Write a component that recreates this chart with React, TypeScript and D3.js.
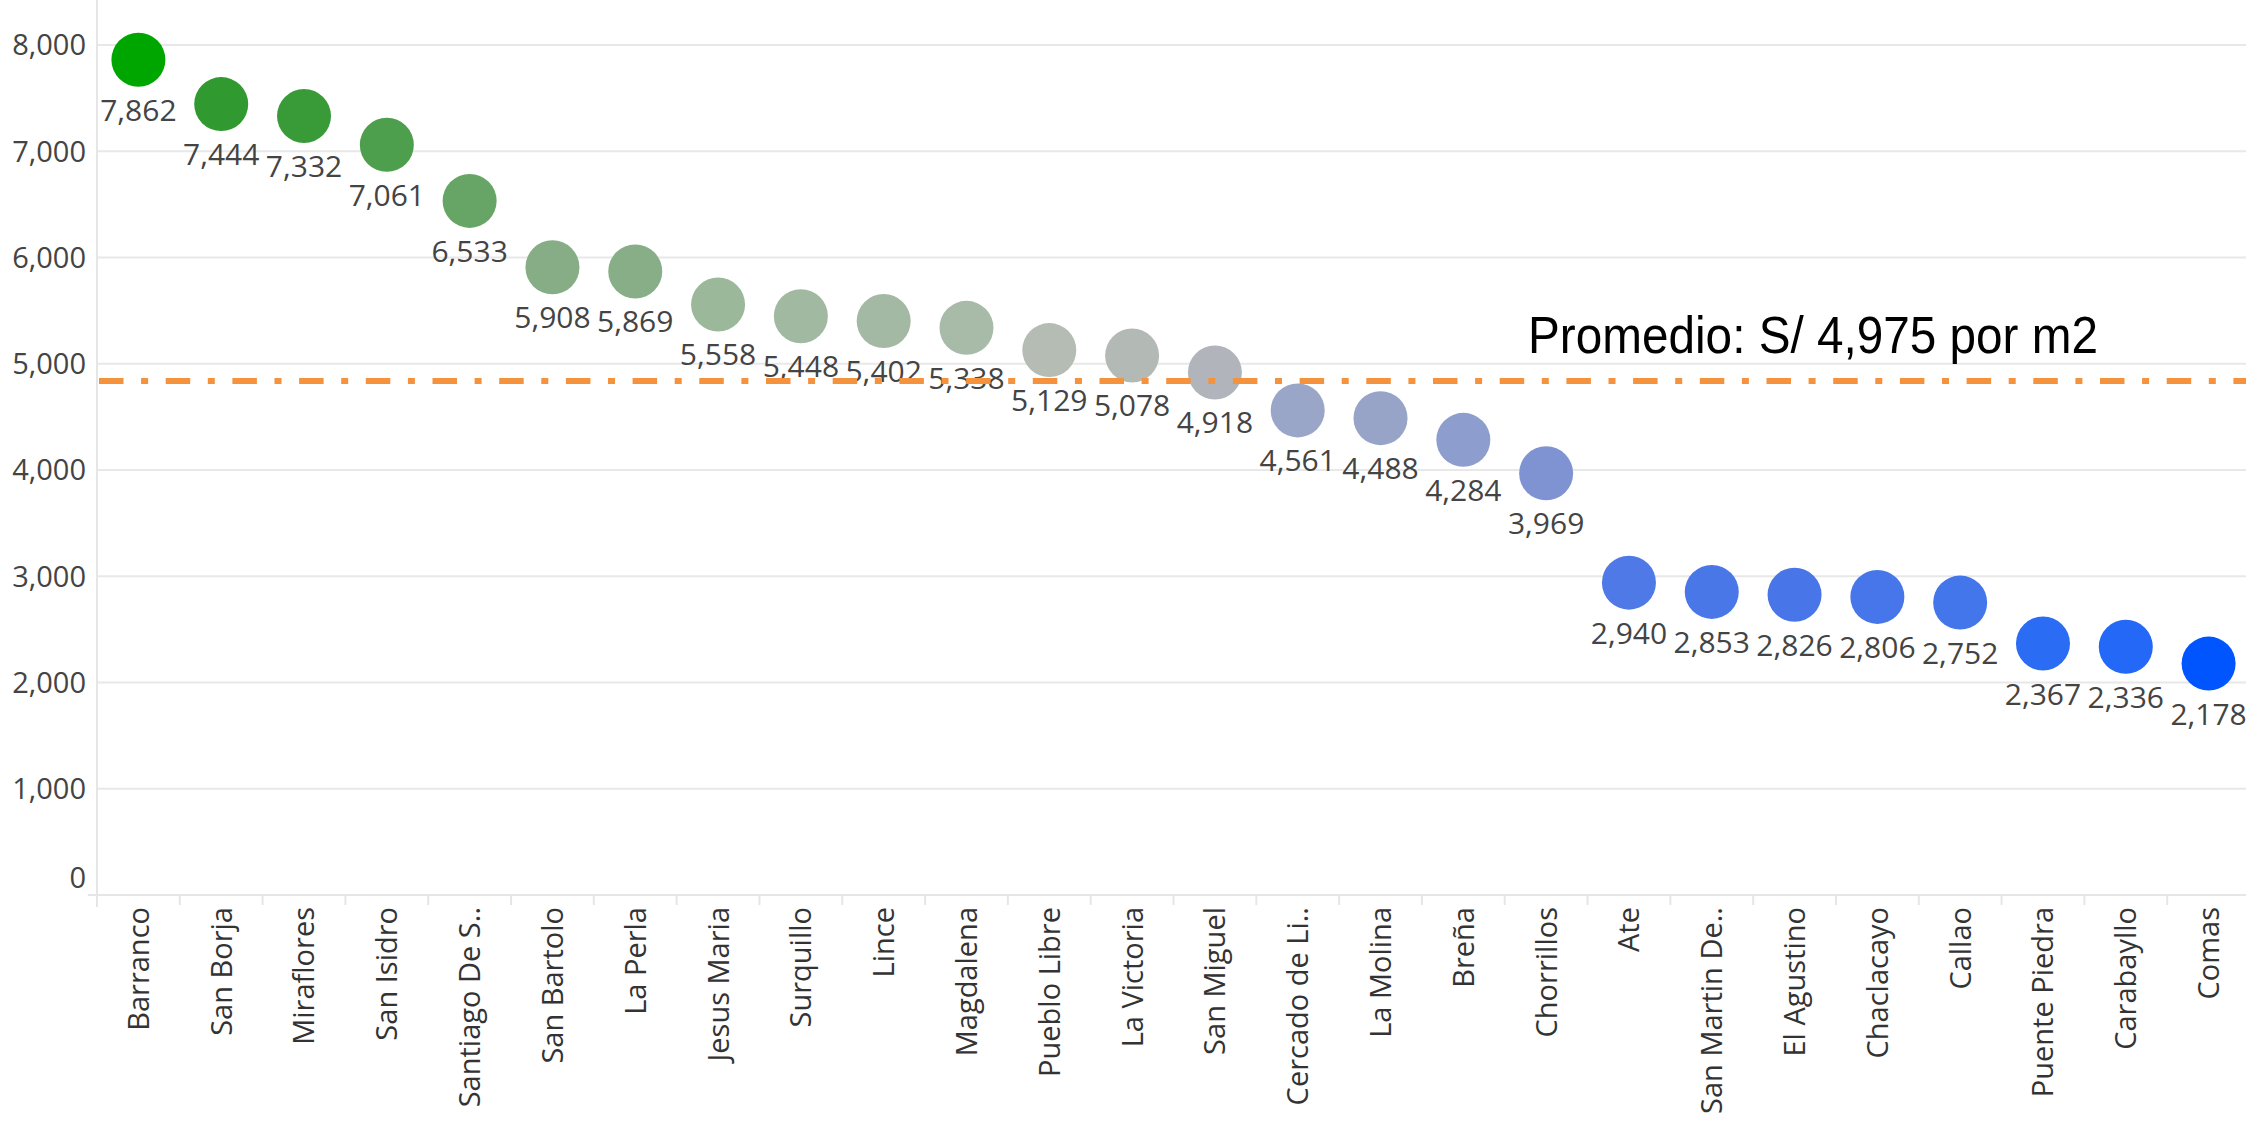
import * as d3 from 'd3'

const width = 2246
const height = 1128
const marginLeft = 97
const marginRight = -4
const axisY = 895

const districts = [
  'Barranco', 'San Borja', 'Miraflores', 'San Isidro', 'Santiago De S..', 'San Bartolo',
  'La Perla', 'Jesus Maria', 'Surquillo', 'Lince', 'Magdalena', 'Pueblo Libre',
  'La Victoria', 'San Miguel', 'Cercado de Li..', 'La Molina', 'Breña', 'Chorrillos',
  'Ate', 'San Martin De..', 'El Agustino', 'Chaclacayo', 'Callao', 'Puente Piedra',
  'Carabayllo', 'Comas',
]
const prices = [
  7862, 7444, 7332, 7061, 6533, 5908, 5869, 5558, 5448, 5402, 5338, 5129, 5078,
  4918, 4561, 4488, 4284, 3969, 2940, 2853, 2826, 2806, 2752, 2367, 2336, 2178,
]
const yTicks = [0, 1000, 2000, 3000, 4000, 5000, 6000, 7000, 8000]
// where the dashed reference line sits in the picture
const averageLine = 4838
const averageLabel = 'Promedio: S/ 4,975 por m2'

// colour stops
const colorStops = [2178, 2367, 2940, 3969, 4561, 4918, 5129, 5558, 5908, 6533, 7061, 7444, 7862]
const colorValues = [
  '#0055ff', '#2a6cf4', '#4f79e6', '#7f93d3', '#9aa6c7', '#b1b5bb', '#b4bcb4',
  '#9bb89b', '#86ad86', '#67a567', '#4d9e4d', '#309a30', '#00a600',
]

const font = "'Open Sans', 'DejaVu Sans', sans-serif"

export default function App() {
  const x = d3
    .scaleBand<string>()
    .domain(districts)
    .range([marginLeft, width - marginRight])
  const y = d3.scaleLinear([0, 8424], [axisY, 0])
  const color = d3.scaleLinear<string>().domain(colorStops).range(colorValues)
  const fmt = d3.format(',')
  const cx = (d: string) => (x(d) ?? 0) + x.bandwidth() / 2

  return (
    <svg
      width={width}
      height={height}
      viewBox={`0 0 ${width} ${height}`}
      style={{ position: 'absolute', left: 0, top: 0, background: '#fff' }}
    >
      {/* grid lines and y labels */}
      <g>
        {yTicks.map(t => (
          <g key={t}>
            {t > 0 && (
              <line
                x1={marginLeft}
                x2={width}
                y1={y(t)}
                y2={y(t)}
                stroke="#e8e8e8"
                strokeWidth={2}
              />
            )}
            <text
              x={86}
              y={t === 0 ? y(t) - 17 : y(t)}
              dy="0.36em"
              textAnchor="end"
              fontFamily={font}
              fontSize={29}
              fill="#444"
            >
              {fmt(t)}
            </text>
          </g>
        ))}
        <line x1={marginLeft} x2={marginLeft} y1={0} y2={axisY + 12} stroke="#e6e6e6" strokeWidth={2} />
        <line x1={88} x2={width} y1={axisY} y2={axisY} stroke="#e6e6e6" strokeWidth={2} />
      </g>

      {/* x axis separators and labels */}
      <g>
        {districts.map(d => (
          <g key={d}>
            <line
              x1={(x(d) ?? 0) + x.bandwidth()}
              x2={(x(d) ?? 0) + x.bandwidth()}
              y1={axisY}
              y2={axisY + 10}
              stroke="#e6e6e6"
              strokeWidth={2}
            />
            <text
              transform={`translate(${cx(d)},${axisY + 12}) rotate(-90)`}
              dy="0.36em"
              textAnchor="end"
              fontFamily={font}
              fontSize={29}
              fill="#333"
            >
              {d}
            </text>
          </g>
        ))}
      </g>

      {/* circles */}
      <g>
        {districts.map((d, i) => (
          <circle key={d} cx={cx(d)} cy={y(prices[i])} r={27} fill={color(prices[i])} />
        ))}
      </g>

      {/* value labels */}
      <g>
        {districts.map((d, i) => (
          <text
            key={d}
            x={cx(d)}
            y={y(prices[i]) + 61}
            textAnchor="middle"
            fontFamily={font}
            fontSize={30}
            fill="#444"
          >
            {fmt(prices[i])}
          </text>
        ))}
      </g>

      {/* average reference line */}
      <line
        x1={marginLeft + 2}
        x2={width}
        y1={y(averageLine)}
        y2={y(averageLine)}
        stroke="#f5923e"
        strokeWidth={6}
        strokeDasharray="24.5 17.6 7 17.6"
      />
      <text
        x={1528}
        y={353}
        fontFamily="'Liberation Sans', Arial, sans-serif"
        fontSize={52}
        textLength={570}
        lengthAdjust="spacingAndGlyphs"
        fill="#000"
      >
        {averageLabel}
      </text>
    </svg>
  )
}
